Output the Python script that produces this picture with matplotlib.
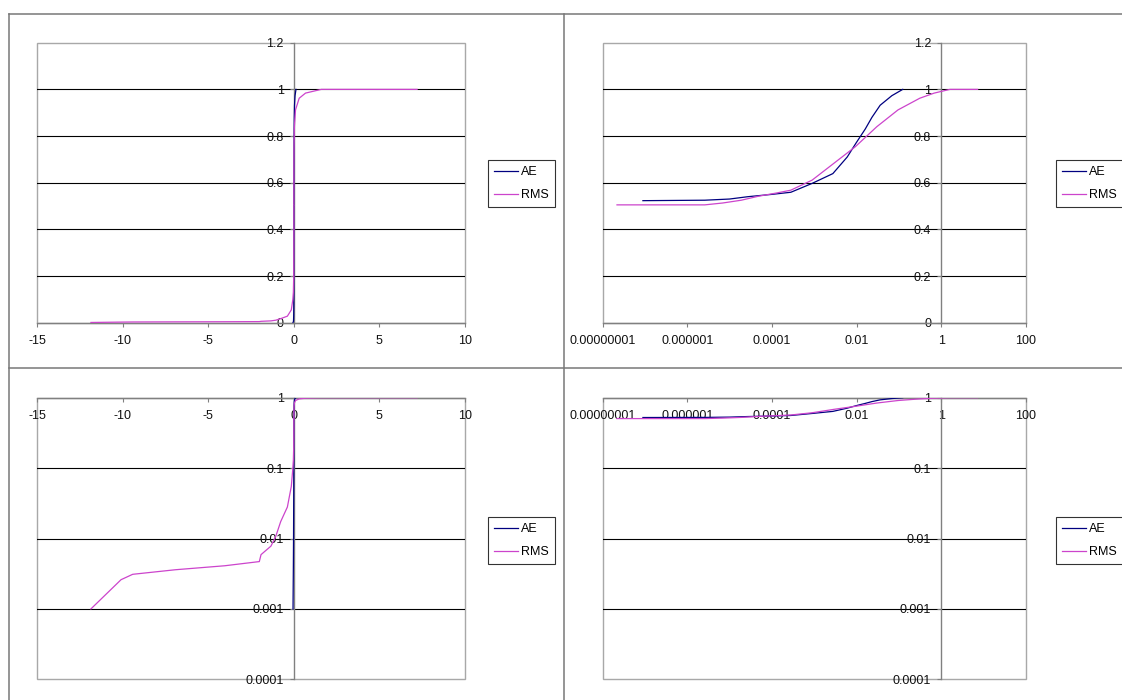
import numpy as np
import matplotlib
matplotlib.use("Agg")
import matplotlib.pyplot as plt
from matplotlib.lines import Line2D
from matplotlib.patches import Rectangle

plt.rcParams['font.family'] = ['Liberation Sans', 'DejaVu Sans']

# Cumulative distribution of the signed error for each method
ae_err = [-0.05, -0.03, -0.02, -0.012, -0.006, -0.003, -1e-3, -1e-4, -1e-5, -1e-6, -1e-7,
          9e-8, 2.6e-6, 1e-5, 2.7e-5, 1e-4, 2.8e-4, 8.9e-4, 2.75e-3, 6e-3, 9.7e-3,
          1.6e-2, 2.3e-2, 3.6e-2, 6.8e-2, 0.123]
ae_cdf = [0.001, 0.004, 0.01, 0.03, 0.075, 0.13, 0.25, 0.42, 0.5, 0.515, 0.52,
          0.523, 0.525, 0.53, 0.54, 0.55, 0.559, 0.597, 0.639, 0.71, 0.77,
          0.83, 0.88, 0.932, 0.973, 1.0]

rms_err = [-11.86, -10.1, -9.42, -6.92, -4.04, -2.02, -1.92, -1.34, -1.06, -0.77, -0.38,
           -0.15, -0.06, -0.03, -0.01, -1e-3, -1e-5, -1e-7,
           2.2e-8, 2.6e-6, 6.9e-6, 1.9e-5, 4.8e-5, 1.3e-4, 2.8e-4, 8.9e-4, 2.9e-3,
           9.3e-3, 3e-2, 9.5e-2, 0.31, 0.68, 1.6, 7.2]
rms_cdf = [0.001, 0.0026, 0.0031, 0.0036, 0.0041, 0.0047, 0.0059, 0.0078, 0.0107, 0.0174, 0.028,
           0.055, 0.1, 0.13, 0.2, 0.35, 0.48, 0.5,
           0.505, 0.505, 0.513, 0.525, 0.542, 0.556, 0.568, 0.611, 0.683,
           0.754, 0.84, 0.912, 0.962, 0.984, 1.0, 1.0]

series_names = ['AE', 'RMS']

# Axis ticks and their labels
lin_x_ticks = [-15, -10, -5, 0, 5, 10]
lin_x_labels = ['-15', '-10', '-5', '0', '5', '10']
log_x_ticks = [1e-8, 1e-6, 1e-4, 1e-2, 1, 100]
log_x_labels = ['0.00000001', '0.000001', '0.0001', '0.01', '1', '100']
lin_y_ticks = [0, 0.2, 0.4, 0.6, 0.8, 1.0, 1.2]
lin_y_labels = ['0', '0.2', '0.4', '0.6', '0.8', '1', '1.2']
log_y_ticks = [1e-4, 1e-3, 1e-2, 1e-1, 1]
log_y_labels = ['0.0001', '0.001', '0.01', '0.1', '1']

AE_COLOR = '#000080'
RMS_COLOR = '#CC44CC'
AXIS_GREY = '#808080'
FRAME_GREY = '#A8A8A8'
FONT_SIZE = 9

W, H = 1122, 700
fig = plt.figure(figsize=(W / 100, H / 100), dpi=100)
fig.patch.set_facecolor('white')


def px_rect(x0, y0, x1, y1):
    return [x0 / W, 1 - y1 / H, (x1 - x0) / W, (y1 - y0) / H]


# chart borders
for xs, ys in [((9, W), (14, 14)), ((9, 9), (14, H)), ((564, 564), (14, H)), ((9, W), (368, 368))]:
    fig.add_artist(Line2D([x / W for x in xs], [1 - y / H for y in ys],
                          transform=fig.transFigure, color='#787878', lw=1.1))


def make_panel(rect, xlog, ylog, legend_xy):
    ax = fig.add_axes(px_rect(*rect))
    pos_only = xlog
    if xlog:
        ax.set_xscale('log')
        ax.set_xlim(log_x_ticks[0], log_x_ticks[-1])
        ax.set_xticks(log_x_ticks, labels=log_x_labels)
        ycross_x = 1
    else:
        ax.set_xlim(lin_x_ticks[0], lin_x_ticks[-1])
        ax.set_xticks(lin_x_ticks, labels=lin_x_labels)
        ycross_x = 0
    if ylog:
        ax.set_yscale('log')
        ax.set_ylim(log_y_ticks[0], log_y_ticks[-1])
        ax.set_yticks(log_y_ticks, labels=log_y_labels)
        grid_vals = log_y_ticks[1:-1]
        xcross_y = 1
    else:
        ax.set_ylim(lin_y_ticks[0], lin_y_ticks[-1])
        ax.set_yticks(lin_y_ticks, labels=lin_y_labels)
        grid_vals = lin_y_ticks[1:-1]
        xcross_y = 0
    ax.minorticks_off()

    ax.spines['left'].set_position(('data', ycross_x))
    ax.spines['bottom'].set_position(('data', xcross_y))
    for s in ('left', 'bottom'):
        ax.spines[s].set_color(AXIS_GREY)
        ax.spines[s].set_linewidth(1.0)
    ax.spines['top'].set_visible(False)
    ax.spines['right'].set_visible(False)
    ax.add_patch(Rectangle((0, 0), 1, 1, transform=ax.transAxes, fill=False,
                           ec=FRAME_GREY, lw=1.0, zorder=0.5, clip_on=False))

    for v in grid_vals:
        ax.axhline(v, color='black', lw=0.8, zorder=1)

    ax.tick_params(axis='both', direction='out', length=3.2, width=0.8,
                   color=AXIS_GREY, labelsize=FONT_SIZE, labelcolor='#111111')
    ax.tick_params(axis='x', top=False, pad=5.5)
    ax.tick_params(axis='y', right=False, pad=4.2)

    for err, cdf, col, name in [(ae_err, ae_cdf, AE_COLOR, series_names[0]),
                                (rms_err, rms_cdf, RMS_COLOR, series_names[1])]:
        e = np.asarray(err)
        c = np.asarray(cdf)
        if pos_only:
            keep = e > 0
            e, c = e[keep], c[keep]
        ax.plot(e, c, color=col, lw=0.9, label=name, zorder=3)

    leg = ax.legend(loc='upper left', bbox_to_anchor=(legend_xy[0] / W, 1 - legend_xy[1] / H),
                    bbox_transform=fig.transFigure, frameon=True, fancybox=False,
                    edgecolor='black', fontsize=FONT_SIZE, handlelength=1.9,
                    handletextpad=0.25, borderpad=0.5, labelspacing=0.85, borderaxespad=0)
    leg.get_frame().set_linewidth(0.8)
    return ax


make_panel((37.2, 42.7, 465, 322.7), False, False, (488, 160))
make_panel((602.5, 42.7, 1026, 322.7), True, False, (1056, 160))
make_panel((37.2, 397.7, 465, 679.3), False, True, (488, 517))
make_panel((602.5, 397.7, 1026, 679.3), True, True, (1056, 517))

fig.savefig('out.png', dpi=100)
